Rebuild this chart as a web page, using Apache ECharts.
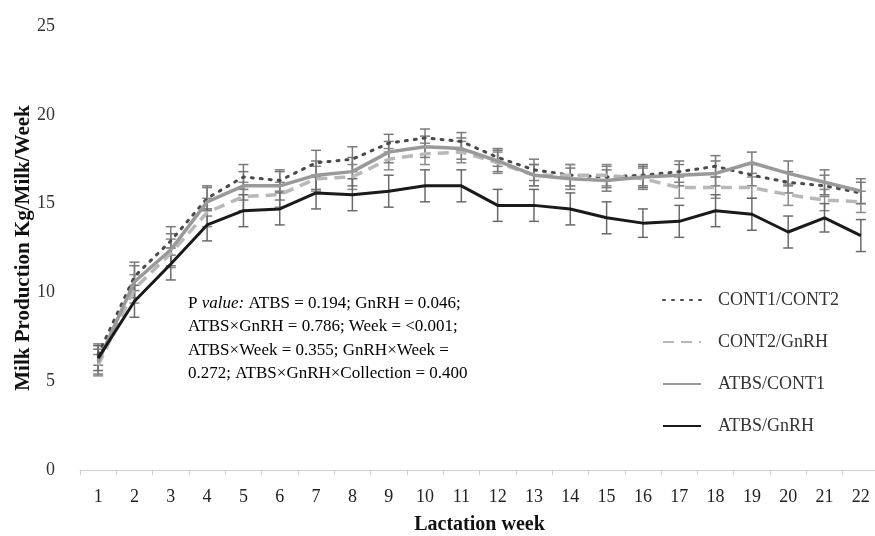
<!DOCTYPE html>
<html>
<head>
<meta charset="utf-8">
<script src="https://cdn.jsdelivr.net/npm/echarts@6/dist/echarts.min.js"></script>
<style>
  html, body { margin: 0; padding: 0; background: #fff; }
  #chart { width: 875px; height: 536px; }
</style>
</head>
<body>
<div id="chart"></div>
<script>
// data
var weeks = ['1','2','3','4','5','6','7','8','9','10','11','12','13','14','15','16','17','18','19','20','21','22'];

var cont1Cont2 = [6.5,10.9,12.9,15.3,16.5,16.3,17.3,17.5,18.4,18.7,18.5,17.6,16.9,16.6,16.5,16.6,16.8,17.1,16.6,16.2,16.0,15.6];
var cont2GnRH  = [5.9,10.2,12.2,14.5,15.4,15.5,16.4,16.5,17.5,17.8,17.9,17.3,16.6,16.6,16.6,16.4,15.9,15.9,15.9,15.5,15.2,15.1];
var atbsCont1  = [6.1,10.6,12.4,15.1,16.0,16.0,16.6,16.8,17.9,18.2,18.1,17.4,16.6,16.4,16.3,16.5,16.6,16.7,17.3,16.7,16.2,15.7];
var atbsGnRH   = [6.3,9.5,11.6,13.8,14.6,14.7,15.6,15.5,15.7,16.0,16.0,14.9,14.9,14.7,14.2,13.9,14.0,14.6,14.4,13.4,14.2,13.2];

// standard errors (approximate)
var seCont1Cont2 = [0.6,0.8,0.8,0.7,0.7,0.6,0.7,0.7,0.5,0.5,0.5,0.5,0.6,0.6,0.6,0.6,0.6,0.6,0.6,0.6,0.6,0.6];
var seCont2GnRH  = [0.6,0.8,0.8,0.8,0.8,0.7,0.7,0.7,0.6,0.6,0.6,0.6,0.6,0.6,0.6,0.6,0.6,0.6,0.6,0.6,0.6,0.6];
var seAtbsCont1  = [0.7,0.9,0.9,0.8,0.8,0.8,0.8,0.8,0.6,0.6,0.6,0.6,0.6,0.6,0.6,0.6,0.6,0.7,0.6,0.7,0.7,0.7];
var seAtbsGnRH   = [0.7,0.9,0.9,0.9,0.9,0.9,0.9,0.9,0.9,0.9,0.9,0.9,0.9,0.9,0.9,0.8,0.9,0.9,0.9,0.9,0.8,0.9];

var yTicks = [0, 5, 10, 15, 20, 25];

function errData(vals, se) {
    var out = [];
    for (var i = 0; i < vals.length; i++) {
        out.push([i, vals[i] - se[i], vals[i] + se[i]]);
    }
    return out;
}

function errSeries(vals, se, color) {
    return {
        type: 'custom',
        silent: true,
        z: 1,
        data: errData(vals, se),
        renderItem: function (params, api) {
            var lo = api.coord([api.value(0), api.value(1)]);
            var hi = api.coord([api.value(0), api.value(2)]);
            var w = 5;
            var st = { stroke: color, lineWidth: 1.5 };
            return {
                type: 'group',
                children: [
                    { type: 'line', shape: { x1: lo[0], y1: lo[1], x2: hi[0], y2: hi[1] }, style: st },
                    { type: 'line', shape: { x1: lo[0] - w, y1: lo[1], x2: lo[0] + w, y2: lo[1] }, style: st },
                    { type: 'line', shape: { x1: hi[0] - w, y1: hi[1], x2: hi[0] + w, y2: hi[1] }, style: st }
                ]
            };
        }
    };
}

var serif = '"Liberation Serif", "DejaVu Serif", serif';
var myChart = echarts.init(document.getElementById('chart'));

var option = {
    backgroundColor: '#fff',
    animation: false,
    grid: { left: 80, top: 26, width: 799, bottom: 66, containLabel: false, outerBoundsMode: 'none' },
    legend: {
        orient: 'vertical',
        left: 657,
        top: 286,
        itemWidth: 38,
        itemHeight: 14,
        itemGap: 24,
        itemStyle: { opacity: 0 },
        textStyle: { fontFamily: serif, fontSize: 18, color: '#333', padding: [0, 0, 0, 12] },
        data: ['CONT1/CONT2', 'CONT2/GnRH', 'ATBS/CONT1', 'ATBS/GnRH']
    },
    xAxis: {
        type: 'category',
        data: weeks,
        boundaryGap: true,
        name: 'Lactation week',
        nameLocation: 'middle',
        nameGap: 45,
        nameTextStyle: { fontFamily: serif, fontSize: 20, fontWeight: 'bold', color: '#111' },
        axisLine: { lineStyle: { color: '#d0d0d0', width: 1 } },
        axisTick: { show: true, length: 5, lineStyle: { color: '#d0d0d0' } },
        axisLabel: { fontFamily: serif, fontSize: 18, color: '#222', margin: 18 },
        splitLine: { show: false }
    },
    yAxis: {
        type: 'value',
        min: yTicks[0],
        max: yTicks[yTicks.length - 1],
        interval: 5,
        name: 'Milk Production Kg/Milk/Week',
        nameLocation: 'middle',
        nameGap: 46,
        nameMoveOverlap: false,
        nameTextStyle: { fontFamily: serif, fontSize: 21, fontWeight: 'bold', color: '#111' },
        axisLine: { show: false },
        axisTick: { show: false },
        axisLabel: { fontFamily: serif, fontSize: 18, color: '#333', margin: 25 },
        splitLine: { show: false }
    },
    graphic: [{
        type: 'text',
        left: 188,
        top: 295,
        style: {
            text: '{n|P }{i|value:}{n| ATBS = 0.194; GnRH = 0.046;}\n{n|ATBS\u00d7GnRH = 0.786; Week = <0.001;}\n{n|ATBS\u00d7Week = 0.355; GnRH\u00d7Week =}\n{n|0.272; ATBS\u00d7GnRH\u00d7Collection = 0.400}',
            rich: {
                n: { fontFamily: serif, fontSize: 17, color: '#111', lineHeight: 23.5 },
                i: { fontFamily: serif, fontSize: 17, fontStyle: 'italic', color: '#111', lineHeight: 23.5 }
            }
        }
    }],
    series: [
        errSeries(cont1Cont2, seCont1Cont2, '#7a7a7a'),
        errSeries(cont2GnRH, seCont2GnRH, '#8a8a8a'),
        errSeries(atbsCont1, seAtbsCont1, '#7a7a7a'),
        errSeries(atbsGnRH, seAtbsGnRH, '#6a6a6a'),
        {
            name: 'CONT1/CONT2', type: 'line', data: cont1Cont2, symbol: 'none', z: 3,
            lineStyle: { color: '#4a4a4a', width: 3, type: [2, 7], cap: 'round' },
            itemStyle: { color: '#4a4a4a' }
        },
        {
            name: 'CONT2/GnRH', type: 'line', data: cont2GnRH, symbol: 'none', z: 3,
            lineStyle: { color: '#b8b8b8', width: 3.5, type: [11, 7] },
            itemStyle: { color: '#b8b8b8' }
        },
        {
            name: 'ATBS/CONT1', type: 'line', data: atbsCont1, symbol: 'none', z: 4,
            lineStyle: { color: '#999', width: 3.5 },
            itemStyle: { color: '#999' }
        },
        {
            name: 'ATBS/GnRH', type: 'line', data: atbsGnRH, symbol: 'none', z: 5,
            lineStyle: { color: '#1a1a1a', width: 3 },
            itemStyle: { color: '#1a1a1a' }
        }
    ]
};

myChart.setOption(option, true);
</script>
</body>
</html>
